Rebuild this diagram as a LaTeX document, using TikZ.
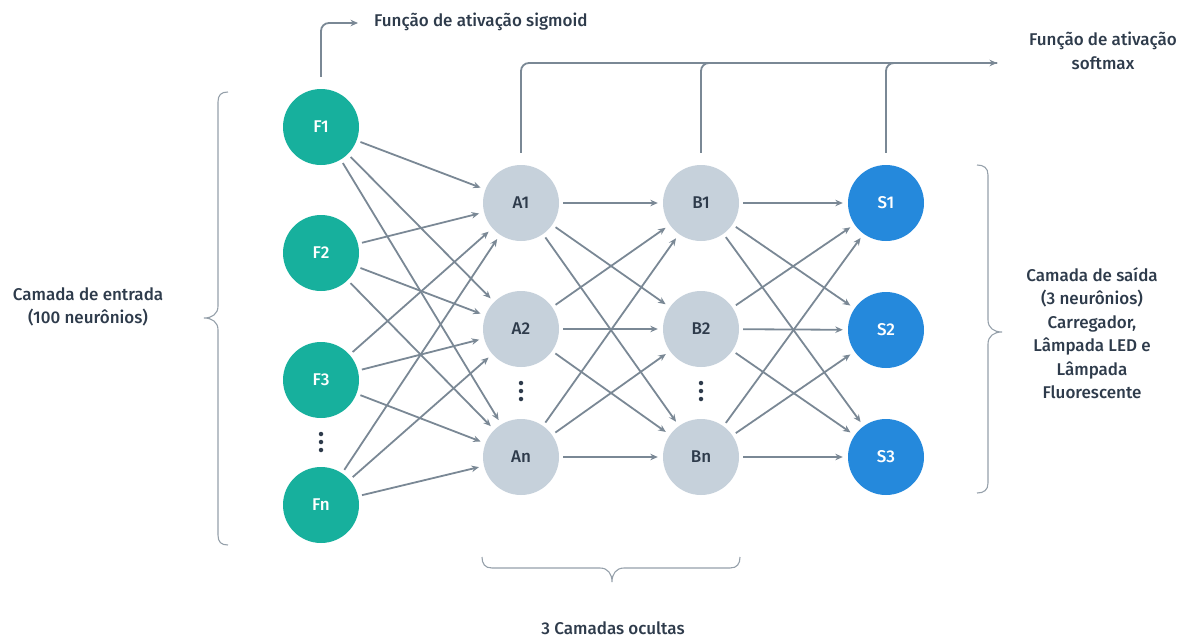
\documentclass[tikz,border=0pt]{standalone}
\usepackage{fontspec}
\setmainfont{Fira Sans Medium}
\usetikzlibrary{arrows.meta}
\definecolor{tealn}{HTML}{17B09D}
\definecolor{grayn}{HTML}{C6D1DB}
\definecolor{bluen}{HTML}{2589DC}
\definecolor{wire}{HTML}{7A8895}
\definecolor{ink}{HTML}{2E3B4B}
\tikzset{
  neuron/.style={circle, minimum size=76pt, inner sep=0pt, font=\fontsize{17}{17}\selectfont},
  inp/.style={neuron, fill=tealn, text=white},
  hid/.style={neuron, fill=grayn, text=ink},
  outn/.style={neuron, fill=bluen, text=white},
  conn/.style={draw=wire, line width=1.8pt, -{Stealth[length=7.5pt,width=6.5pt]}, shorten <=4pt, shorten >=5pt},
  feed/.style={draw=wire, line width=1.8pt, rounded corners=8pt},
  brace/.style={draw=wire!80, line width=1.1pt},
  label/.style={text=ink, font=\fontsize{17}{23.5}\selectfont, align=center, inner sep=0pt},
  vdot/.style={circle, fill=ink, inner sep=0pt, minimum size=4.5pt}
}
\begin{document}
\begin{tikzpicture}[x=1pt, y=-1pt]
\useasboundingbox (0,0) rectangle (1189,640);

% input layer
\node[inp] (F1) at (321,127) {F1};
\node[inp] (F2) at (321,253) {F2};
\node[inp] (F3) at (321,380) {F3};
\node[inp] (Fn) at (321,505) {Fn};
% first hidden layer
\node[hid] (A1) at (521,203) {A1};
\node[hid] (A2) at (521,329) {A2};
\node[hid] (An) at (521,457) {An};
% second hidden layer
\node[hid] (B1) at (701,203) {B1};
\node[hid] (B2) at (701,329) {B2};
\node[hid] (Bn) at (701,457) {Bn};
% output layer
\node[outn] (S1) at (886,203) {S1};
\node[outn] (S2) at (886,330) {S2};
\node[outn] (S3) at (886,457) {S3};

% vertical ellipses
\foreach \yy [count=\i] in {434,442,450} \node[vdot] (fd\i) at (321,\yy) {};
\foreach \yy [count=\i] in {383,391,399} \node[vdot] (ad\i) at (521,\yy) {};
\foreach \yy [count=\i] in {383,391,399} \node[vdot] (bd\i) at (701,\yy) {};

% weights
\foreach \s in {F1,F2,F3,Fn}
  \foreach \t in {A1,A2,An}
    \draw[conn] (\s) -- (\t);
\foreach \s in {A1,A2,An}
  \foreach \t in {B1,B2,Bn}
    \draw[conn] (\s) -- (\t);
\foreach \s in {B1,B2,Bn}
  \foreach \t in {S1,S2,S3}
    \draw[conn] (\s) -- (\t);

% activation functions
\coordinate (sg) at (358,23);
\coordinate (sm) at (997,63);
\draw[feed, -{Stealth[length=7.5pt,width=6.5pt]}] ([yshift=12pt]F1.north) |- (sg);
\draw[feed, -{Stealth[length=7.5pt,width=6.5pt]}] ([yshift=12pt]A1.north) |- (sm);
\draw[feed] ([yshift=12pt]B1.north) |- (sm);
\draw[feed] ([yshift=12pt]S1.north) |- (sm);
\node[label, anchor=west] (sgt) at (374,22) {Função de ativação sigmoid};
\node[label] (smt) at (1103,51) {Função de ativação\\softmax};

% braces
\draw[brace] (228,92) .. controls (221,92) and (218,95) .. (218,102) -- (218,306)
  .. controls (218,314) and (212,318) .. (204,318)
  .. controls (212,318) and (218,322) .. (218,330) -- (218,535)
  .. controls (218,542) and (221,545) .. (228,545);
\draw[brace] (977,165) .. controls (984,165) and (988,168) .. (988,175) -- (988,320)
  .. controls (988,328) and (994,332) .. (1002,332)
  .. controls (994,332) and (988,336) .. (988,344) -- (988,483)
  .. controls (988,490) and (984,493) .. (977,493);
\draw[brace] (482,557) .. controls (482,564) and (485,568) .. (492,568) -- (600,568)
  .. controls (608,568) and (612,574) .. (612,582)
  .. controls (612,574) and (616,568) .. (624,568) -- (730,568)
  .. controls (737,568) and (740,564) .. (740,557);

% layer captions
\node[label] (inl) at (88,307) {Camada de entrada\\(100 neurônios)};
\node[label] (outl) at (1092,333) {Camada de saída\\(3 neurônios)\\Carregador,\\Lâmpada LED e\\Lâmpada\\Fluorescente};
\node[label] (hidl) at (613,628) {3 Camadas ocultas};
\end{tikzpicture}
\end{document}
